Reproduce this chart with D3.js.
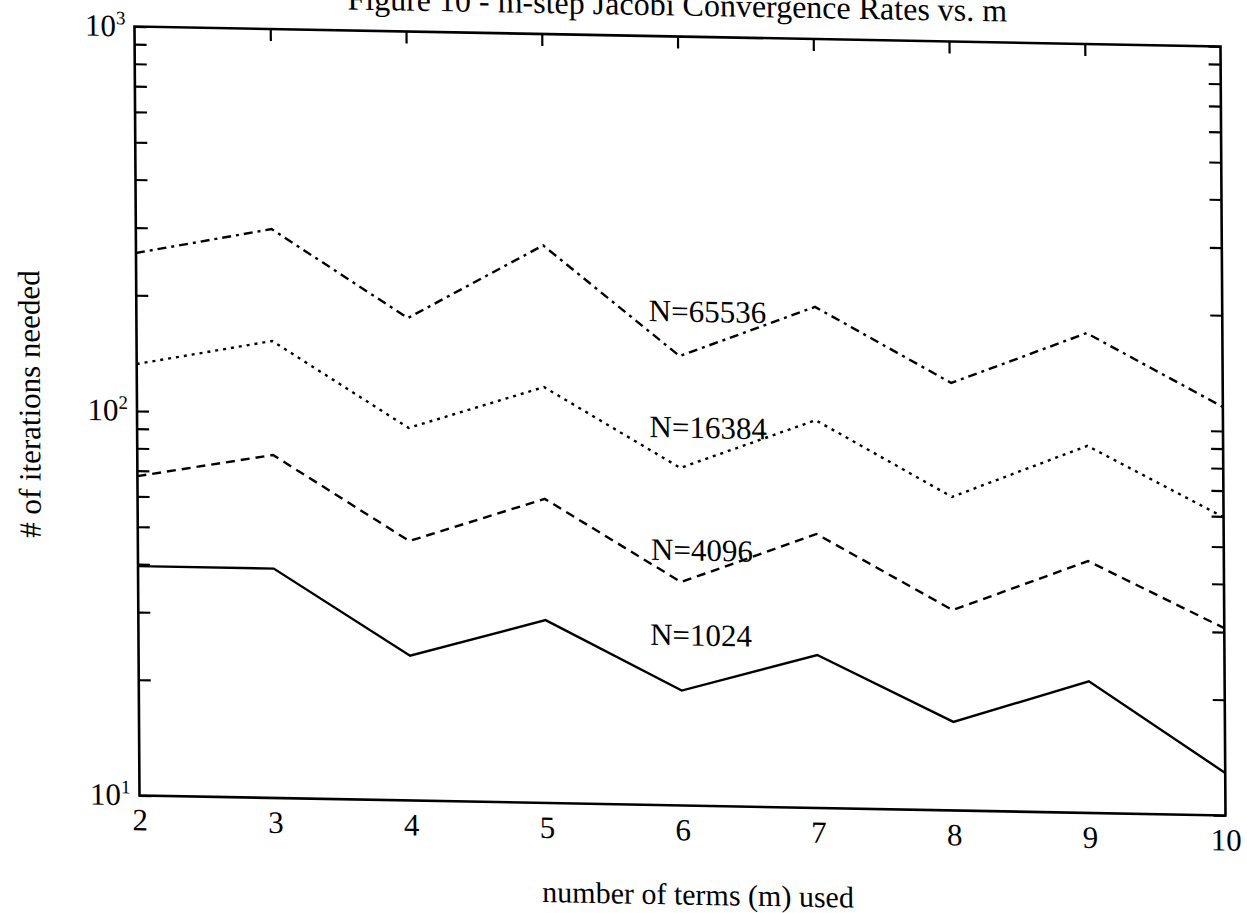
<!DOCTYPE html>
<html><head><meta charset="utf-8">
<script src="https://cdn.jsdelivr.net/npm/d3@7"></script>
<style>html,body{margin:0;padding:0;background:#fff;overflow:hidden;} svg{display:block;}</style>
</head><body>
<svg id="chart" width="1247" height="913"></svg>
<script>
// ---- data ----
const mValues = [2, 3, 4, 5, 6, 7, 8, 9, 10];
const itersN1024  = [39.5, 39.5, 23.8, 29.9, 19.9, 25, 17, 22, 12.9];
const itersN4096  = [67.7, 78, 47.3, 61.8, 38.1, 51.6, 33.2, 45.2, 30.7];
const itersN16384 = [132.5, 154.4, 93.1, 120.7, 75.5, 102, 65.4, 90.1, 59.7];
const itersN65536 = [257.6, 301.7, 179.8, 282, 147.5, 201, 129.4, 177, 115.5];
const seriesLabels = ["N=1024", "N=4096", "N=16384", "N=65536"];
const labelM = [5.77, 5.78, 5.775, 5.775];
const labelIters = [26.1, 43.4, 90.5, 181.4];
const xTickValues = [2, 3, 4, 5, 6, 7, 8, 9, 10];
const yMajorTicks = [10, 100, 1000];
const yMajorExponents = ["1", "2", "3"];
const titleText = "Figure 10 - m-step Jacobi Convergence Rates vs. m";
const xTitleText = "number of terms (m) used";
const yTitleText = "# of iterations needed";

// ---- layout ----
const W = 1086, H = 769;
const FONT = "'Liberation Serif', 'Times New Roman', serif";
const svg = d3.select("#chart");
svg.append("rect").attr("width", 1247).attr("height", 913).attr("fill", "#fff");
// slight skew like the scanned page
const g = svg.append("g").attr("transform", "matrix(1,0.0184,0.0065,1,134.5,26.5)");

const x = d3.scaleLinear().domain([2, 10]).range([0, W]);
const y = d3.scaleLog().domain([10, 1000]).range([H, 0]);

// frame
g.append("rect").attr("x", 0).attr("y", 0).attr("width", W).attr("height", H)
  .attr("fill", "none").attr("stroke", "#000").attr("stroke-width", 2.6);

const styleTicks = sel => {
  sel.select(".domain").remove();
  sel.selectAll(".tick line").attr("stroke", "#000").attr("stroke-width", 2.2);
};

// y ticks left and right (inward)
g.append("g").call(d3.axisLeft(y).tickValues(y.ticks()).tickSize(-12).tickFormat("")).call(styleTicks);
g.append("g").attr("transform", `translate(${W},0)`)
  .call(d3.axisRight(y).tickValues(y.ticks()).tickSize(-12).tickFormat("")).call(styleTicks);
// x ticks on top (inward)
g.append("g").call(d3.axisTop(x).tickValues(xTickValues.slice(1, -1)).tickSize(-12).tickFormat("")).call(styleTicks);

// x tick labels
const xAx = g.append("g").attr("transform", `translate(0,${H})`)
  .call(d3.axisBottom(x).tickValues(xTickValues).tickSize(0).tickFormat(d3.format("d")));
xAx.select(".domain").remove();
xAx.selectAll("text").attr("y", 35).attr("dy", 0)
  .attr("font-family", FONT).attr("font-size", 31).attr("fill", "#000");

// y major labels with superscripts
yMajorTicks.forEach((v, i) => {
  const t = g.append("text").attr("x", -9).attr("y", y(v) + 10)
    .attr("text-anchor", "end").attr("font-family", FONT).attr("font-size", 31).attr("fill", "#000");
  t.append("tspan").text("10");
  t.append("tspan").attr("dy", -12).attr("font-size", 19).text(yMajorExponents[i]);
});

// series
const allSeries = [itersN1024, itersN4096, itersN16384, itersN65536];
const dashes = [null, "9,6", "3,5", "9,5,3,5"];
const line = d3.line().x(d => x(d[0])).y(d => y(d[1]));
allSeries.forEach((vals, i) => {
  g.append("path").datum(mValues.map((m, k) => [m, vals[k]]))
    .attr("d", line).attr("fill", "none").attr("stroke", "#000")
    .attr("stroke-width", 2.4).attr("stroke-dasharray", dashes[i]);
});

// series labels
seriesLabels.forEach((s, i) => {
  g.append("text").attr("x", x(labelM[i])).attr("y", y(labelIters[i]))
    .attr("font-family", FONT).attr("font-size", 31).attr("fill", "#000").text(s);
});

// titles
g.append("text").attr("x", W / 2).attr("y", -21).attr("text-anchor", "middle")
  .attr("font-family", FONT).attr("font-size", 32).attr("fill", "#000").text(titleText);
g.append("text").attr("x", W / 2 + 15).attr("y", H + 99).attr("text-anchor", "middle")
  .attr("font-family", FONT).attr("font-size", 30).attr("fill", "#000").text(xTitleText);
g.append("text").attr("transform", `translate(-97,${H / 2 - 5}) rotate(-90)`).attr("text-anchor", "middle")
  .attr("font-family", FONT).attr("font-size", 31).attr("fill", "#000").text(yTitleText);
</script>
</body></html>
